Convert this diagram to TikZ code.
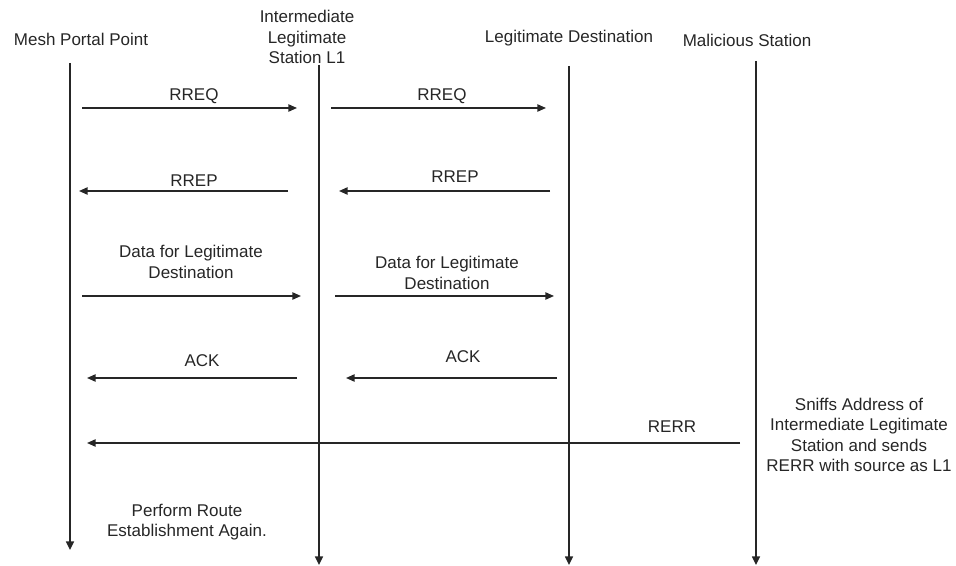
\documentclass[tikz,border=0pt]{standalone}
\usepackage{fontspec}
\setmainfont{Liberation Sans}
\usetikzlibrary{arrows.meta}
\definecolor{ink}{HTML}{262626}
\begin{document}
\begin{tikzpicture}[x=0.75pt,y=-0.75pt,
  lbl/.style={font=\fontsize{12.75}{15.2}\selectfont, text=ink, align=center, inner sep=0pt},
  life/.style={draw=ink, line width=1.1pt, -{Triangle[length=6.5pt,width=6pt]}},
  msg/.style={draw=ink, line width=1.1pt, -{Triangle[length=6.5pt,width=5.5pt]}}]
\useasboundingbox (0,0) rectangle (956,566);

% participants
\node[lbl] (hMesh)  at (81,39)  {Mesh Portal Point};
\node[lbl] (hInter) at (307,37) {Intermediate\\Legitimate\\Station L1};
\node[lbl] (hDest)  at (569,38) {Legitimate Destination};
\node[lbl] (hMal)   at (747,40) {Malicious Station};

% lifelines
\coordinate (mTop) at (70,63);   \coordinate (mBot) at (70,550);
\coordinate (iTop) at (319,65);  \coordinate (iBot) at (319,565);
\coordinate (dTop) at (569,66);  \coordinate (dBot) at (569,565);
\coordinate (aTop) at (756,61);  \coordinate (aBot) at (756,565);
\draw[life] (mTop) -- (mBot);
\draw[life] (iTop) -- (iBot);
\draw[life] (dTop) -- (dBot);
\draw[life] (aTop) -- (aBot);

% RREQ
\coordinate (q1a) at (82,108);  \coordinate (q1b) at (297,108);
\coordinate (q2a) at (331,108); \coordinate (q2b) at (546,108);
\draw[msg] (q1a) -- (q1b);
\draw[msg] (q2a) -- (q2b);
\node[lbl] (lq1) at (194,96) {RREQ};
\node[lbl] (lq2) at (442,96) {RREQ};

% RREP
\coordinate (p1a) at (288,191); \coordinate (p1b) at (79,191);
\coordinate (p2a) at (550,191); \coordinate (p2b) at (339,191);
\draw[msg] (p1a) -- (p1b);
\draw[msg] (p2a) -- (p2b);
\node[lbl] (lp1) at (194,181) {RREP};
\node[lbl] (lp2) at (455,177) {RREP};

% data
\coordinate (d1a) at (82,296);  \coordinate (d1b) at (301,296);
\coordinate (d2a) at (335,296); \coordinate (d2b) at (554,296);
\draw[msg] (d1a) -- (d1b);
\draw[msg] (d2a) -- (d2b);
\node[lbl] (ld1) at (191,262) {Data for Legitimate\\Destination};
\node[lbl] (ld2) at (447,273) {Data for Legitimate\\Destination};

% ACK
\coordinate (k1a) at (297,378); \coordinate (k1b) at (87,378);
\coordinate (k2a) at (557,378); \coordinate (k2b) at (346,378);
\draw[msg] (k1a) -- (k1b);
\draw[msg] (k2a) -- (k2b);
\node[lbl] (lk1) at (202,361) {ACK};
\node[lbl] (lk2) at (463,357) {ACK};

% forged RERR
\coordinate (ea) at (740,443); \coordinate (eb) at (87,443);
\draw[msg] (ea) -- (eb);
\node[lbl] (le) at (672,427) {RERR};
\node[lbl] (note) at (859,435) {Sniffs Address of\\Intermediate Legitimate\\Station and sends\\RERR with source as L1};

\node[lbl] (again) at (187,522) {Perform Route\\Establishment Again.};
\end{tikzpicture}
\end{document}
